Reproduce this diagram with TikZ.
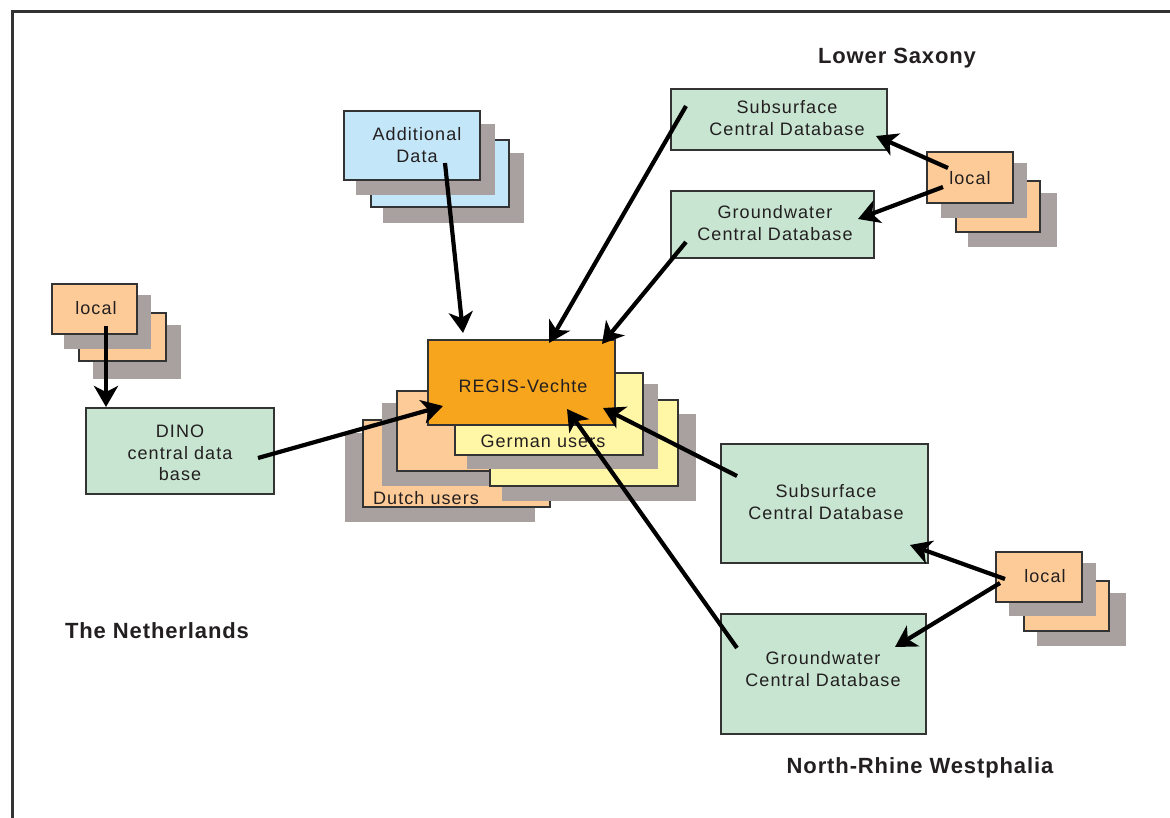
\documentclass[tikz,border=0pt]{standalone}
\usepackage{fontspec}
\setmainfont{Liberation Sans}
\newfontfamily\labfont[LetterSpace=6]{Liberation Sans}
\newfontfamily\boldlab[LetterSpace=4]{Liberation Sans Bold}
\usetikzlibrary{arrows.meta}
\definecolor{shad}{HTML}{A9A19F}
\definecolor{edge}{HTML}{333333}
\definecolor{ink}{HTML}{231F20}
\definecolor{bluef}{HTML}{C3E6F8}
\definecolor{peach}{HTML}{FDCB98}
\definecolor{greenf}{HTML}{C7E5D1}
\definecolor{regis}{HTML}{F7A51D}
\definecolor{yellowf}{HTML}{FFF6A6}
\begin{document}
\begin{tikzpicture}[x=1pt,y=-1pt,
  box/.style={draw=edge, line width=1.6pt, inner sep=0pt, anchor=north west},
  deco/.style={draw=edge, line width=1.6pt},
  txt/.style={font={\labfont\fontsize{18}{22}\selectfont}, text=ink, align=center, inner sep=0pt},
  region/.style={font={\boldlab\fontsize{22}{26}\selectfont}, text=ink, inner sep=0pt},
  conn/.style={line width=4.2pt, black, -{Stealth[length=21pt,width=24pt,inset=6pt]}}]
\useasboundingbox (0,0) rectangle (1170,818);
% frame
\draw[edge, line width=3pt] (12,818) -- (12,12) -- (1170,12);

% Additional Data stack
\fill[shad] (383,153) rectangle (524,223);
\filldraw[deco, fill=bluef] (371,140) rectangle (509,207);
\fill[shad] (356,124) rectangle (495,195);
\node[box, fill=bluef, minimum width=136pt, minimum height=69pt] (add) at (343,110) {};
\node[txt] (addt) at (417,145) {Additional\\Data};

% local (Netherlands) stack
\fill[shad] (93,325) rectangle (181,379);
\filldraw[deco, fill=peach] (79,313) rectangle (166,361);
\fill[shad] (64,295) rectangle (151,349);
\node[box, fill=peach, minimum width=85pt, minimum height=50pt] (locNL) at (51,283) {};
\node[txt] (locNLt) at (96,308) {local};

% DINO
\node[box, fill=greenf, minimum width=188pt, minimum height=86pt] (dino) at (85,407) {};
\node[txt, font={\labfont\fontsize{18}{21.5}\selectfont}] (dinot) at (180,453) {DINO\\central data\\base};

% Lower Saxony
\node[box, fill=greenf, minimum width=216pt, minimum height=61pt] (ssLS) at (670,88) {};
\node[txt] (ssLSt) at (787,118) {Subsurface\\Central Database};
\node[box, fill=greenf, minimum width=203pt, minimum height=67pt] (gwLS) at (670,190) {};
\node[txt] (gwLSt) at (775,223) {Groundwater\\Central Database};
\fill[shad] (968,193) rectangle (1057,247);
\filldraw[deco, fill=peach] (956,181) rectangle (1040,232);
\fill[shad] (941,163) rectangle (1027,218);
\node[box, fill=peach, minimum width=86pt, minimum height=51pt] (locLS) at (926,151) {};
\node[txt] (locLSt) at (970,178) {local};

% North-Rhine Westphalia
\node[box, fill=greenf, minimum width=207pt, minimum height=119pt] (ssNRW) at (720,443) {};
\node[txt] (ssNRWt) at (826,502) {Subsurface\\Central Database};
\node[box, fill=greenf, minimum width=205pt, minimum height=120pt] (gwNRW) at (720,613) {};
\node[txt] (gwNRWt) at (823,669) {Groundwater\\Central Database};
\fill[shad] (1037,593) rectangle (1126,646);
\filldraw[deco, fill=peach] (1024,581) rectangle (1109,631);
\fill[shad] (1009,563) rectangle (1096,616);
\node[box, fill=peach, minimum width=86pt, minimum height=50pt] (locNRW) at (995,551) {};
\node[txt] (locNRWt) at (1045,576) {local};

% Dutch users stack
\fill[shad] (345,433) rectangle (535,522);
\node[box, fill=peach, minimum width=187pt, minimum height=87pt] (dutch) at (362,419) {};
\fill[shad] (382,403) rectangle (569,486);
\filldraw[deco, fill=peach] (397,391) rectangle (584,471);
% German users stack
\fill[shad] (502,414) rectangle (696,501);
\filldraw[deco, fill=yellowf] (490,400) rectangle (678,486);
\fill[shad] (467,384) rectangle (658,469);
\node[box, fill=yellowf, minimum width=188pt, minimum height=82pt] (german) at (454,372) {};
\node[txt] (germant) at (543,441) {German users};
\node[txt] (dutcht) at (426,498) {Dutch users};

% REGIS
\node[box, fill=regis, minimum width=187pt, minimum height=85pt] (regisbox) at (427,339) {};
\node[txt] (regist) at (523,386) {REGIS-Vechte};

% region labels
\node[region] (lsax) at (897,58) {Lower Saxony};
\node[region] (nl) at (157,631) {The Netherlands};
\node[region] (nrw) at (920,768) {North-Rhine Westphalia};

% connector end points
\coordinate (addS) at (445,163);   \coordinate (regA) at (463,333);
\coordinate (ssLSs) at (686,106);  \coordinate (regB) at (549,343);
\coordinate (gwLSs) at (686,242);  \coordinate (regC) at (602,344);
\coordinate (locLSa) at (948,168); \coordinate (ssLSe) at (876,136);
\coordinate (locLSb) at (943,187); \coordinate (gwLSe) at (858,219);
\coordinate (locNLs) at (106,326); \coordinate (dinoN) at (106,407);
\coordinate (dinoS) at (258,458);  \coordinate (regD) at (443,406);
\coordinate (ssNRWs) at (737,476); \coordinate (regE) at (603,408);
\coordinate (gwNRWs) at (737,648); \coordinate (regF) at (567,409);
\coordinate (locNRWa) at (1005,579); \coordinate (ssNRWe) at (910,545);
\coordinate (locNRWb) at (1000,583); \coordinate (gwNRWe) at (895,647);

\draw[conn] (addS) -- (regA);
\draw[conn] (ssLSs) -- (regB);
\draw[conn] (gwLSs) -- (regC);
\draw[conn] (locLSa) -- (ssLSe);
\draw[conn] (locLSb) -- (gwLSe);
\draw[conn] (locNLs) -- (dinoN);
\draw[conn] (dinoS) -- (regD);
\draw[conn] (ssNRWs) -- (regE);
\draw[conn] (gwNRWs) -- (regF);
\draw[conn] (locNRWa) -- (ssNRWe);
\draw[conn] (locNRWb) -- (gwNRWe);
\end{tikzpicture}
\end{document}
